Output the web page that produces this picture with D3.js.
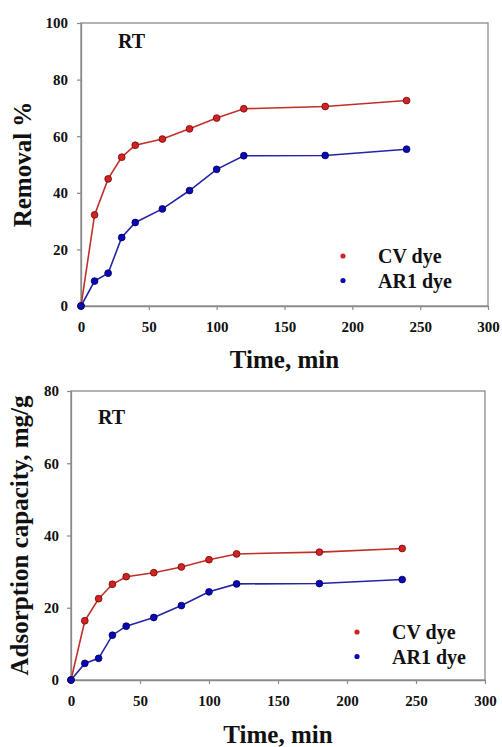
<!DOCTYPE html>
<html>
<head>
<meta charset="utf-8">
<script src="https://cdn.jsdelivr.net/npm/d3@7"></script>
<style>
  body { margin: 0; background: #fff; }
  svg text { font-family: 'Liberation Serif', 'Times New Roman', serif; font-weight: bold; fill: #111; }
</style>
</head>
<body>
<div class="graph"></div>
<script>
// sampling times (min)
var times = [0, 10, 20, 30, 40, 60, 80, 100, 120, 180, 240];

// removal %
var removalCV  = [0, 32.2, 44.9, 52.6, 56.8, 59.0, 62.6, 66.4, 69.7, 70.5, 72.6];
var removalAR1 = [0, 8.8, 11.6, 24.2, 29.5, 34.3, 40.8, 48.3, 53.1, 53.2, 55.4];

// adsorption capacity, mg/g
var capacityCV  = [0, 16.4, 22.5, 26.5, 28.6, 29.7, 31.3, 33.3, 34.9, 35.4, 36.4];
var capacityAR1 = [0, 4.6, 6.0, 12.4, 14.9, 17.3, 20.6, 24.4, 26.6, 26.7, 27.8];

var xTicks = [0, 50, 100, 150, 200, 250, 300];
var removalTicks = [0, 20, 40, 60, 80, 100];
var capacityTicks = [0, 20, 40, 60, 80];
var seriesNames = ['CV dye', 'AR1 dye'];

var width = 502,
    height = 747;

var colors = {
  line: ['#c03028', '#2424a4'],
  fill: ['#d42222', '#0808b4'],
  stroke: ['#6a0a0a', '#00005a']
};

var svg = d3.select('.graph')
  .append('svg')
  .attr('width', width)
  .attr('height', height);

function drawPanel(opt) {
  var x = d3.scaleLinear().domain([0, 300]).range([opt.left, opt.right]);
  var y = d3.scaleLinear().domain([0, opt.yMax]).range([opt.bottom, opt.top]);

  // frame
  svg.append('rect')
    .attr('x', opt.left)
    .attr('y', opt.top)
    .attr('width', opt.right - opt.left)
    .attr('height', opt.bottom - opt.top)
    .attr('fill', 'none')
    .attr('stroke', '#8a8a8a')
    .attr('stroke-width', 1.3);

  var xAxis = svg.append('g')
    .attr('transform', 'translate(0,' + opt.bottom + ')')
    .call(d3.axisBottom(x).tickValues(xTicks).tickSize(4).tickPadding(11).tickSizeOuter(0));
  var yAxis = svg.append('g')
    .attr('transform', 'translate(' + opt.left + ',0)')
    .call(d3.axisLeft(y).tickValues(opt.yTicks).tickSize(4).tickPadding(opt.yPad).tickSizeOuter(0));

  [xAxis, yAxis].forEach(function(g) {
    g.select('.domain').attr('stroke', '#8a8a8a').attr('stroke-width', 1.3);
    g.selectAll('.tick line').attr('stroke', '#8a8a8a').attr('stroke-width', 1.2);
    g.selectAll('text')
      .style('font-family', "'Liberation Serif', 'Times New Roman', serif")
      .style('font-weight', 'bold')
      .style('font-size', '15px')
      .attr('fill', '#111');
  });

  var line = d3.line()
    .x(function(d, i) { return x(times[i]); })
    .y(function(d) { return y(d); });

  opt.series.forEach(function(vals, s) {
    svg.append('path')
      .datum(vals)
      .attr('d', line)
      .attr('fill', 'none')
      .attr('stroke', colors.line[s])
      .attr('stroke-width', 1.6);

    svg.append('g').selectAll('circle')
      .data(vals)
      .enter()
      .append('circle')
      .attr('cx', function(d, i) { return x(times[i]); })
      .attr('cy', function(d) { return y(d); })
      .attr('r', 3.4)
      .attr('fill', colors.fill[s])
      .attr('stroke', colors.stroke[s])
      .attr('stroke-width', 0.8);
  });

  // RT label
  svg.append('text')
    .attr('x', opt.rt[0])
    .attr('y', opt.rt[1])
    .style('font-size', '20px')
    .text('RT');

  // legend
  seriesNames.forEach(function(name, s) {
    svg.append('circle')
      .attr('cx', opt.legend[0])
      .attr('cy', opt.legend[1] + s * 24.5)
      .attr('r', 2.6)
      .attr('fill', colors.fill[s]);
    svg.append('text')
      .attr('x', opt.legend[0] + 35)
      .attr('y', opt.legend[1] + 7 + s * 24.5)
      .style('font-size', '20px')
      .text(name);
  });

  // axis titles
  svg.append('text')
    .attr('x', (opt.left + opt.right) / 2)
    .attr('y', opt.xTitleY)
    .attr('text-anchor', 'middle')
    .style('font-size', '25px')
    .text('Time, min');

  svg.append('text')
    .attr('transform', 'translate(' + opt.yTitleX + ',' + (opt.top + opt.bottom) / 2 + ') rotate(-90)')
    .attr('text-anchor', 'middle')
    .style('font-size', '25px')
    .text(opt.yTitle);
}

drawPanel({
  left: 81, right: 488, top: 23, bottom: 306,
  yMax: 100, yTicks: removalTicks, yPad: 9,
  series: [removalCV, removalAR1],
  rt: [118, 48], legend: [343, 256],
  xTitleY: 368, yTitleX: 31,
  yTitle: 'Removal %'
});

drawPanel({
  left: 71, right: 485, top: 391, bottom: 680,
  yMax: 80, yTicks: capacityTicks, yPad: 8,
  series: [capacityCV, capacityAR1],
  rt: [98, 424], legend: [357, 632],
  xTitleY: 743, yTitleX: 28,
  yTitle: 'Adsorption capacity, mg/g'
});
</script>
</body>
</html>
